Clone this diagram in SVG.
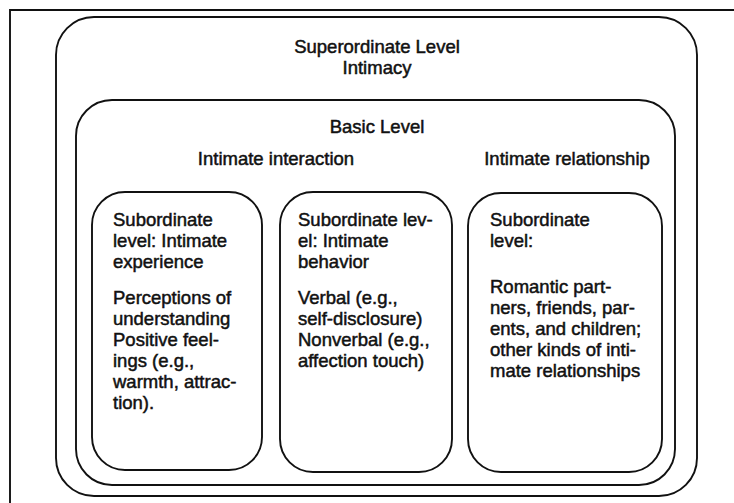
<svg xmlns="http://www.w3.org/2000/svg" width="734" height="503" viewBox="0 0 734 503">
<style>
.box{fill:none;stroke:#111;stroke-width:1.9}
text{font-family:"Liberation Sans",Arial,Helvetica,sans-serif;font-size:18.5px;fill:#111;stroke:#111;stroke-width:0.5}
.c{text-anchor:middle}
</style>
<rect width="734" height="503" fill="#fff"/>
<g id="frame"><path class="box" d="M10,512 V10 H745"/></g>
<g id="superordinate">
<rect class="box" x="56" y="17" width="641" height="479" rx="38" ry="38"/>
<text class="c" x="377" y="53">Superordinate Level</text>
<text class="c" x="377" y="74">Intimacy</text>
</g>
<g id="basic">
<rect class="box" x="76" y="100" width="599" height="385" rx="36" ry="36"/>
<text class="c" x="377" y="133">Basic Level</text>
<text class="c" x="276" y="165">Intimate interaction</text>
<text class="c" x="567" y="165">Intimate relationship</text>
</g>
<g id="experience">
<rect class="box" x="92" y="192" width="170" height="278" rx="33" ry="33"/>
<text x="113"><tspan x="113" y="226">Subordinate</tspan><tspan x="113" y="247">level: Intimate</tspan><tspan x="113" y="268">experience</tspan><tspan x="113" y="304">Perceptions of</tspan><tspan x="113" y="325">understanding</tspan><tspan x="113" y="346">Positive feel-</tspan><tspan x="113" y="367">ings (e.g.,</tspan><tspan x="113" y="388">warmth, attrac-</tspan><tspan x="113" y="409">tion).</tspan></text>
</g>
<g id="behavior">
<rect class="box" x="280" y="192" width="172" height="280" rx="33" ry="33"/>
<text x="298"><tspan x="298" y="226">Subordinate lev-</tspan><tspan x="298" y="247">el: Intimate</tspan><tspan x="298" y="268">behavior</tspan><tspan x="298" y="304">Verbal (e.g.,</tspan><tspan x="298" y="325">self-disclosure)</tspan><tspan x="298" y="346">Nonverbal (e.g.,</tspan><tspan x="298" y="367">affection touch)</tspan></text>
</g>
<g id="relationship">
<rect class="box" x="468" y="193" width="194" height="279" rx="33" ry="33"/>
<text x="490"><tspan x="490" y="226">Subordinate</tspan><tspan x="490" y="247">level:</tspan><tspan x="490" y="293">Romantic part-</tspan><tspan x="490" y="314">ners, friends, par-</tspan><tspan x="490" y="335">ents, and children;</tspan><tspan x="490" y="356">other kinds of inti-</tspan><tspan x="490" y="377">mate relationships</tspan></text>
</g>
</svg>
